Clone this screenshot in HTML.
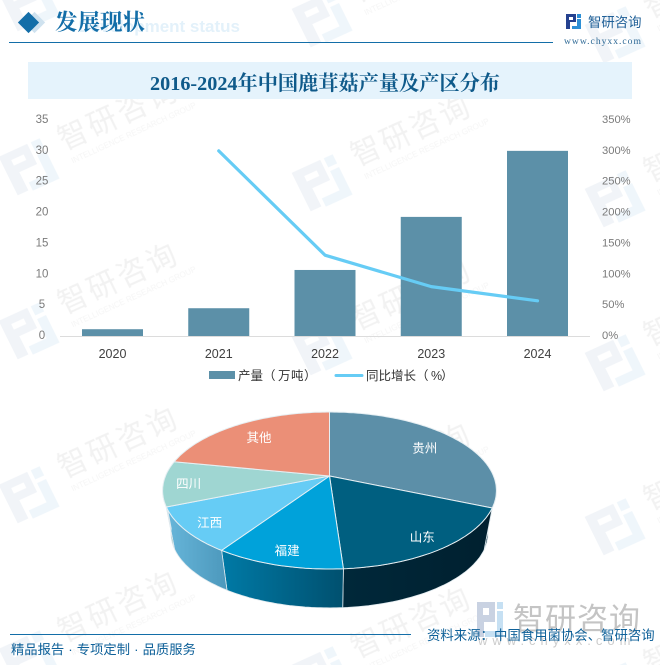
<!DOCTYPE html>
<html lang="zh"><head><meta charset="utf-8"><title>2016-2024年中国鹿茸菇产量及产区分布</title>
<style>
html,body{margin:0;padding:0;background:#fff;width:660px;height:665px;overflow:hidden;}
svg{display:block;}
text{font-family:"Liberation Sans","Noto Sans CJK SC",sans-serif;}
.serif{font-family:"Liberation Serif","Noto Serif CJK SC",serif;}
</style></head>
<body>
<svg id="root" xmlns="http://www.w3.org/2000/svg" width="660" height="665" viewBox="0 0 660 665">
  <defs id="defs">
    <pattern id="wm-pattern" patternUnits="userSpaceOnUse" width="293" height="164" patternTransform="skewY(3.125)"></pattern>
  </defs>
  <rect x="0" y="0" width="660" height="665" fill="url(#wm-pattern)"/>

  <g>
    <rect x="27" y="15" width="15" height="15" transform="rotate(45 34.5 22.5)" fill="#cfe2ef"/>
    <rect x="21" y="15" width="15" height="15" transform="rotate(45 28.5 22.5)" fill="#136ea8"/>
    <text x="240" y="32" text-anchor="end" font-size="17" font-weight="bold" fill="#e3f1fa">Development status</text>
    <text x="55" y="30" class="serif" font-size="22.5" font-weight="bold" fill="#136ea8">发展现状</text>
    <line x1="9" y1="42.5" x2="553" y2="42.5" stroke="#136ea8" stroke-width="1"/>
    <g>
      <path d="M566 14h10v8h-6v7h-4z" fill="#25418f"/>
      <path d="M573 17h-4v3h4z" fill="#fff"/>
      <path d="M577 14h4v4h-4zM577 19h4v10h-9v-3h5z" fill="#2d8fd5"/>
    </g>
    <text x="588" y="27" font-size="13.4" fill="#1e5f97">智研咨询</text>
    <text x="564" y="44" class="serif" font-size="9.6" letter-spacing="1" fill="#2f6a96">www.chyxx.com</text>
  </g>

  <rect x="28" y="62" width="604" height="37" fill="#e5f3fc"/>
  <text x="325" y="90" text-anchor="middle" class="serif" font-size="20.2" font-weight="bold" fill="#0f5a8a">2016-2024年中国鹿茸菇产量及产区分布</text>

  <g id="combo"></g>
  <g id="pie"></g>

  <g>
    <path d="M477 602h18v20h-11v15h-7z" fill="#c9d2e2"/>
    <path d="M483 608h6v7h-6z" fill="#fff"/>
    <path d="M497 602h6v7h-6zM497 611h6v26h-18v-6h12z" fill="#c6e0f3"/>
    <text x="513" y="630" font-size="31" letter-spacing="1" fill="#c4c4c4">智研咨询</text>
    <text x="478" y="645" font-size="13" letter-spacing="5" fill="#cccccc">www.chyxx.com</text>
  </g>
  <line x1="10" y1="634.5" x2="411" y2="634.5" stroke="#136ea8" stroke-width="1"/>
  <text x="11" y="654" font-size="13.3" word-spacing="0.4" fill="#0f6199">精品报告 · 专项定制 · 品质服务</text>
  <text x="427" y="640" font-size="13.4" fill="#0f6199">资料来源：中国食用菌协会、智研咨询</text>
</svg>

<script>
// ---- combo chart data ----
const years = ["2020", "2021", "2022", "2023", "2024"];
const production = [1.1, 4.5, 10.7, 19.3, 30];
const growth = [null, 300, 131, 80, 57];
const leftTicks = [0, 5, 10, 15, 20, 25, 30, 35];
const rightTicks = [0, 50, 100, 150, 200, 250, 300, 350];

// ---- pie chart data ----
const regions = ["贵州", "山东", "福建", "江西", "四川", "其他"];
const shares = [31.4, 17.5, 10.5, 9.4, 9.3, 21.9];

const NS = "http://www.w3.org/2000/svg";
function mk(parent, tag, attrs, txt) {
  const e = document.createElementNS(NS, tag);
  for (const k in attrs) e.setAttribute(k, attrs[k]);
  if (txt !== undefined) e.textContent = txt;
  parent.appendChild(e);
  return e;
}

// ---- watermarks (tile plus neighbours, because a tile overflows its pattern cell) ----
const wm = document.getElementById("wm-pattern");
for (let i = -1; i <= 1; i++) {
  for (let j = -1; j <= 1; j++) {
    const g = mk(wm, "g", { transform: "translate(" + (115 + i * 293) + " " + (110 + j * 164) + ") rotate(-27)" });
    
    
    mk(g, "text", { x: -62, y: 10, "font-size": 30, "letter-spacing": 3, fill: "#f2f2f2" }, "智研咨询");
    mk(g, "text", { x: -60, y: 25, "font-size": 8.2, fill: "#f5f5f5" }, "INTELLIGENCE RESEARCH GROUP");
    mk(g, "path", { d: "M-125 -11h32v22h-20v20h-12zM-115 -3v6h14v-6z", fill: "#f1f4f8", "fill-rule": "evenodd" });
    mk(g, "path", { d: "M-89 -11h10v10h-10zM-89 3h10v30h-30v-9h20z", fill: "#eff6fb" });
  }
}

// ---- combo chart ----
const combo = document.getElementById("combo");
const y0 = 336, plotH = 216, x0 = 112.5, stepX = 106.25, barW = 61;
const yL = v => y0 - v / 35 * plotH;
const yR = v => y0 - v / 350 * plotH;
const xC = i => x0 + i * stepX;

leftTicks.forEach(t => {
  const e = mk(combo, "text", { x: 42, y: yL(t) + 3, "text-anchor": "middle", "font-size": 11.5, fill: "#7a7a7a" }, String(t));
  
  
});
rightTicks.forEach(t => {
  const e = mk(combo, "text", { x: 602, y: yR(t) + 3, "font-size": 11.2, fill: "#7a7a7a" }, t + "%");
  
  
});
production.forEach((v, i) => {
  const e = mk(combo, "rect", { x: xC(i) - barW / 2, y: yL(v), width: barW, height: y0 - yL(v), fill: "#5c90a8" });
  
  
});
const axis = mk(combo, "line", { x1: 60, y1: y0 + 0.5, x2: 590, y2: y0 + 0.5, stroke: "#dcdcdc", "stroke-width": 1 });


years.forEach((t, i) => {
  const e = mk(combo, "text", { x: xC(i), y: 358, "text-anchor": "middle", "font-size": 12.5, fill: "#404040" }, t);
  
  
});
const pts = growth.map((v, i) => v === null ? null : xC(i) + "," + yR(v)).filter(Boolean).join(" ");
const gl = mk(combo, "polyline", { points: pts, fill: "none", stroke: "#66ccf5", "stroke-width": 3.2, "stroke-linejoin": "round", "stroke-linecap": "round" });



const lg = mk(combo, "g", {});


const ls1 = mk(lg, "rect", { x: 209, y: 371, width: 26, height: 8, fill: "#5c90a8" });


const lt1 = mk(lg, "text", { x: "238 250.5 263 278 291 304", y: 380, "font-size": 12.5, fill: "#333" }, "产量（万吨）");


const ls2 = mk(lg, "line", { x1: 336, y1: 375.5, x2: 362, y2: 375.5, stroke: "#66ccf5", "stroke-width": 3, "stroke-linecap": "round" });


const lt2 = mk(lg, "text", { x: "366 378.5 391 403.5 416 431 441", y: 380, "font-size": 12.5, fill: "#333" }, "同比增长（%）");



// ---- perspective pie ----
const pie = document.getElementById("pie");
const defs = document.getElementById("defs");
const topColors = ["#5c8fa8", "#005f80", "#00a2da", "#66ccf5", "#9fd6d2", "#eb8f77"];
const sideLeft = ["#00283a", "#00283a", "#007aa6", "#67b6da", "#7fb4b2", "#b06a58"];
const sideRight = ["#001f2e", "#00202f", "#00506f", "#4c98bc", "#7fb4b2", "#b06a58"];
const P = 0.185, A = 164, B = 75.8, CX = 329.5, CY = 476, BOTTOM_CY = 519.5, S = 0.95;
const VIS_FROM = 97, VIS_TO = 263;
function proj(deg, r, cy, s) {
  const a = deg * Math.PI / 180, u = r * Math.sin(a), v = r * Math.cos(a), w = 1 + P * v;
  return [CX + s * A * u / w, cy - s * B * v / w];
}
const total = shares.reduce((a, b) => a + b, 0);
let acc = 0;
const slices = shares.map(v => { const s = acc; acc += v / total * 360; return [s, acc]; });

slices.forEach((sl, i) => {
  const a0 = Math.max(sl[0], VIS_FROM), a1 = Math.min(sl[1], VIS_TO);
  if (a1 <= a0) return;
  const top = [], bot = [];
  for (let k = 0; k <= 40; k++) {
    const d = a0 + (a1 - a0) * k / 40;
    top.push(proj(d, 1, CY, 1));
    bot.push(proj(d, 1, BOTTOM_CY, S));
  }
  const all = top.concat(bot);
  const xs = all.map(p => p[0]);
  const gid = "side-grad-" + i;
  const gr = mk(defs, "linearGradient", { id: gid, gradientUnits: "userSpaceOnUse", x1: Math.min.apply(null, xs), y1: 0, x2: Math.max.apply(null, xs), y2: 0 });
  mk(gr, "stop", { offset: 0, "stop-color": sideLeft[i] });
  mk(gr, "stop", { offset: 1, "stop-color": sideRight[i] });
  const d = "M" + top.map(p => p[0].toFixed(1) + " " + p[1].toFixed(1)).join("L") + "L" + bot.reverse().map(p => p[0].toFixed(1) + " " + p[1].toFixed(1)).join("L") + "Z";
  const e = mk(pie, "path", { d: d, fill: "url(#" + gid + ")", stroke: "#dfe9ee", "stroke-width": 0.8 });
  
  
});
slices.forEach((sl, i) => {
  const pts2 = [];
  const n = Math.ceil(sl[1] - sl[0]);
  for (let k = 0; k <= n; k++) pts2.push(proj(sl[0] + (sl[1] - sl[0]) * k / n, 1, CY, 1));
  const d = "M" + CX + " " + CY + "L" + pts2.map(p => p[0].toFixed(1) + " " + p[1].toFixed(1)).join("L") + "Z";
  const e = mk(pie, "path", { d: d, fill: topColors[i], stroke: "#e6eff3", "stroke-width": 1, "stroke-linejoin": "round" });
  
  
});
slices.forEach((sl, i) => {
  const mid = (sl[0] + sl[1]) / 2;
  const r = Math.cos(mid * Math.PI / 180) > 0 ? 0.75 : 0.85;
  const p = proj(mid, r, CY, 1);
  const e = mk(pie, "text", { x: p[0], y: p[1] + 5.5, "text-anchor": "middle", "font-size": 12.5, fill: "#fff" }, regions[i]);
  
  
});
</script>
</body></html>
